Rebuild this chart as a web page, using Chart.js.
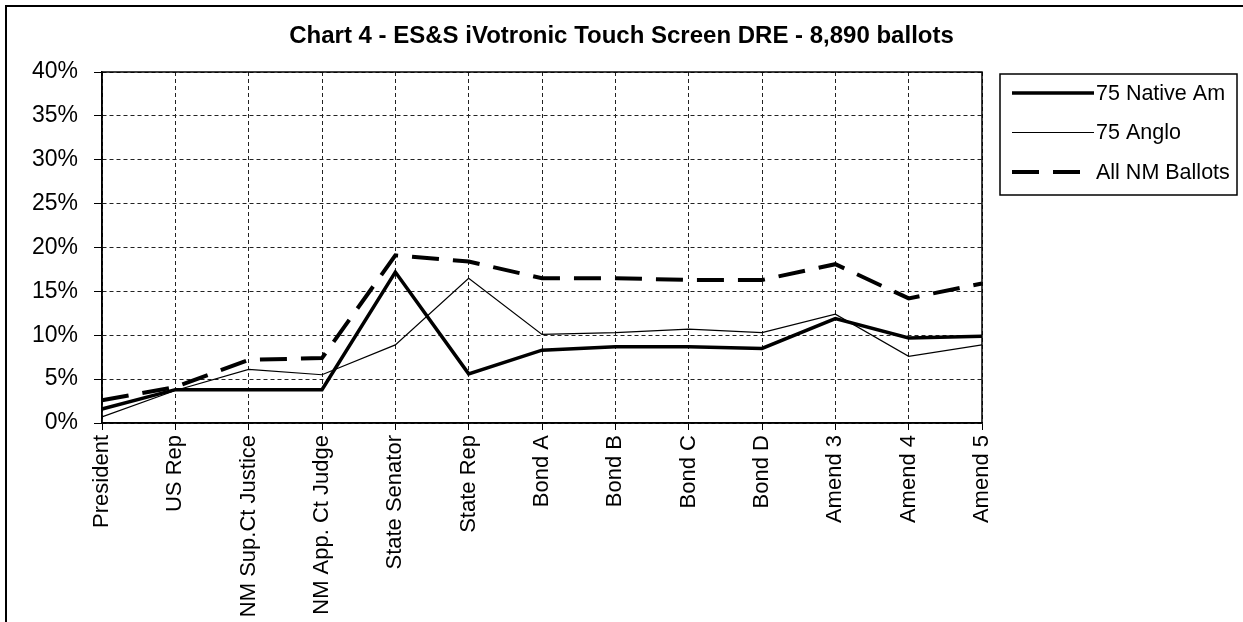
<!DOCTYPE html>
<html>
<head>
<meta charset="utf-8">
<script src="https://cdn.jsdelivr.net/npm/chart.js@4/dist/chart.umd.min.js"></script>
<style>
  html, body { margin: 0; padding: 0; background: #fff; }
  #wrap { width: 1243px; height: 622px; }
</style>
</head>
<body>
<div id="wrap"><canvas id="chart4" width="1243" height="622"></canvas></div>
<script>
// contests on the ballot
const contests = ['President', 'US Rep', 'NM Sup.Ct Justice', 'NM App. Ct Judge', 'State Senator',
  'State Rep', 'Bond A', 'Bond B', 'Bond C', 'Bond D', 'Amend 3', 'Amend 4', 'Amend 5'];

// undervote rate, percent
const nativeAm = [1.6, 3.8, 3.8, 3.8, 17.2, 5.6, 8.3, 8.7, 8.7, 8.5, 11.9, 9.7, 9.9];
const anglo = [0.7, 3.7, 6.1, 5.5, 8.9, 16.5, 10.1, 10.3, 10.7, 10.3, 12.4, 7.6, 8.9];
const allNM = [2.6, 4.1, 7.2, 7.4, 19.1, 18.4, 16.5, 16.5, 16.3, 16.3, 18.1, 14.2, 15.9];

const seriesNames = ['75 Native Am', '75 Anglo', 'All NM Ballots'];

const FONT = "'Liberation Sans', Arial, sans-serif";

// white page + the frame around the whole picture
const pageFrame = {
    id: 'pageFrame',
    beforeDraw(chart) {
        const ctx = chart.ctx;
        ctx.save();
        ctx.fillStyle = '#fff';
        ctx.fillRect(0, 0, chart.width, chart.height);
        ctx.strokeStyle = '#000';
        ctx.lineWidth = 2;
        ctx.beginPath();
        ctx.moveTo(6, chart.height);
        ctx.lineTo(6, 6);
        ctx.lineTo(chart.width, 6);
        ctx.stroke();
        ctx.restore();
    }
};

// solid box round the plot area
const plotBox = {
    id: 'plotBox',
    beforeDatasetsDraw(chart) {
        const {ctx, chartArea: a} = chart;
        ctx.save();
        ctx.strokeStyle = '#000';
        ctx.lineWidth = 1.5;
        ctx.strokeRect(a.left, a.top, a.right - a.left, a.bottom - a.top);
        ctx.restore();
    }
};

// boxed legend to the right of the plot
const boxLegend = {
    id: 'boxLegend',
    afterDraw(chart) {
        const ctx = chart.ctx;
        const a = chart.chartArea;
        const x = a.right + 18, y = a.top + 2, w = 237, h = 121;
        ctx.save();
        ctx.strokeStyle = '#000';
        ctx.lineWidth = 1.5;
        ctx.strokeRect(x, y, w, h);
        ctx.font = '21.5px ' + FONT;
        ctx.textBaseline = 'middle';
        ctx.fillStyle = '#000';
        chart.data.datasets.forEach((ds, i) => {
            const ly = y + 19 + i * 39.5;
            ctx.beginPath();
            ctx.setLineDash(ds.borderDash || []);
            ctx.lineWidth = ds.borderWidth;
            ctx.strokeStyle = ds.borderColor;
            ctx.moveTo(x + 12, ly);
            ctx.lineTo(x + 94, ly);
            ctx.stroke();
            ctx.setLineDash([]);
            ctx.fillText(ds.label, x + 96, ly + 1);
        });
        ctx.restore();
    }
};

new Chart(document.getElementById('chart4'), {
    type: 'line',
    data: {
        labels: contests,
        datasets: [
            {
                label: seriesNames[0],
                data: nativeAm,
                borderColor: '#000',
                borderWidth: 3.5
            },
            {
                label: seriesNames[1],
                data: anglo,
                borderColor: '#000',
                borderWidth: 1.2
            },
            {
                label: seriesNames[2],
                data: allNM,
                borderColor: '#000',
                borderWidth: 4,
                borderDash: [27, 14]
            }
        ]
    },
    options: {
        responsive: false,
        animation: false,
        layout: {
            padding: 0
        },
        elements: {
            point: { radius: 0, hoverRadius: 0 },
            line: { tension: 0, fill: false }
        },
        datasets: { line: { clip: 6 } },
        scales: {
            x: {
                offset: false,
                grid: {
                    color: '#222',
                    tickColor: '#000',
                    tickLength: 7
                },
                border: { display: true, color: '#000', width: 1.5, dash: [4, 3] },
                ticks: {
                    autoSkip: false,
                    minRotation: 90,
                    maxRotation: 90,
                    padding: 5,
                    color: '#000',
                    font: { family: FONT, size: 22 }
                },
                afterFit(scale) { scale.height = 199; }
            },
            y: {
                min: 0,
                max: 40,
                grid: {
                    color: '#222',
                    tickColor: '#000',
                    tickLength: 8
                },
                border: { display: true, color: '#000', width: 1.5, dash: [4, 3] },
                ticks: {
                    stepSize: 5,
                    padding: 16,
                    color: '#000',
                    font: { family: FONT, size: 23 },
                    callback: v => v + '%'
                },
                afterFit(scale) { scale.width = 102; }
            },
            // empty axis that keeps the legend's room on the right
            legendRoom: {
                type: 'linear',
                position: 'right',
                display: true,
                grid: { display: false, drawTicks: false },
                border: { display: false },
                ticks: { display: false },
                afterFit(scale) { scale.width = 261; }
            }
        },
        plugins: {
            legend: { display: false },
            tooltip: { enabled: false },
            title: {
                display: true,
                text: 'Chart 4 - ES&S iVotronic Touch Screen DRE - 8,890 ballots',
                color: '#000',
                font: { family: FONT, size: 24, weight: 'bold' },
                padding: { top: 22, bottom: 21.2 }
            }
        }
    },
    plugins: [pageFrame, plotBox, boxLegend]
});
</script>
</body>
</html>
